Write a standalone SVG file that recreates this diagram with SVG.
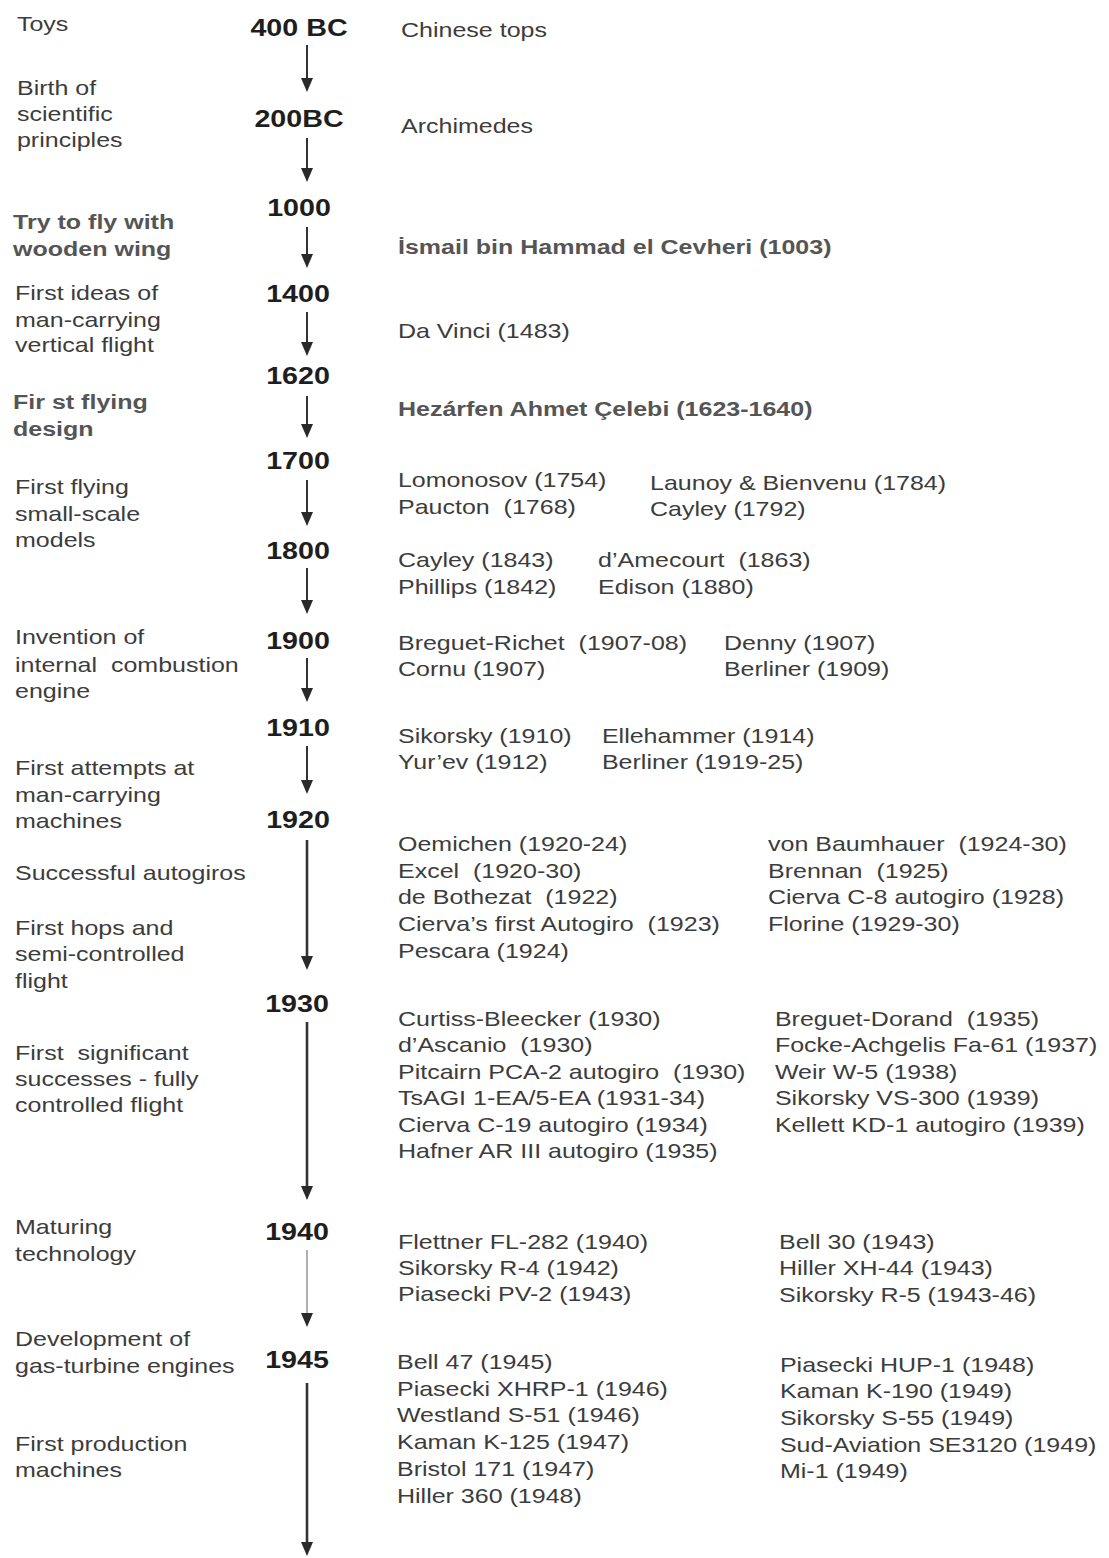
<svg xmlns="http://www.w3.org/2000/svg" width="1109" height="1558" viewBox="0 0 1109 1558" xml:space="preserve">
<style>
text { font-family: "Liberation Sans", Arial, sans-serif; white-space: pre; }
.t { font-size: 20.5px; fill: #3c3c3c; }
.b { font-size: 20.5px; font-weight: bold; fill: #555555; }
.y { font-size: 23.5px; font-weight: bold; fill: #1e1e1e; text-anchor: middle; }
.ln { stroke: #333333; stroke-width: 2; fill: none; }
.lt { stroke: #333333; stroke-width: 2.6; fill: none; }
.lg { stroke: #b0b0b0; stroke-width: 2; fill: none; }
</style>
<defs>
<marker id="ah" viewBox="0 0 14 12" refX="0" refY="6" markerWidth="14" markerHeight="12" markerUnits="userSpaceOnUse" orient="auto">
<path d="M0,0 L14,6 L0,12 z" fill="#2a2a2a"/>
</marker>
</defs>
<rect x="0" y="0" width="1109" height="1558" fill="#ffffff"/>
<g id="connectors">
<line class="ln" x1="307" y1="45" x2="307" y2="78" marker-end="url(#ah)"/>
<line class="ln" x1="307" y1="138" x2="307" y2="168" marker-end="url(#ah)"/>
<line class="ln" x1="307" y1="227" x2="307" y2="254" marker-end="url(#ah)"/>
<line class="ln" x1="307" y1="312" x2="307" y2="342" marker-end="url(#ah)"/>
<line class="ln" x1="307" y1="396" x2="307" y2="424" marker-end="url(#ah)"/>
<line class="ln" x1="307" y1="480" x2="307" y2="512" marker-end="url(#ah)"/>
<line class="ln" x1="307" y1="568" x2="307" y2="600" marker-end="url(#ah)"/>
<line class="ln" x1="307" y1="658" x2="307" y2="688" marker-end="url(#ah)"/>
<line class="ln" x1="307" y1="746" x2="307" y2="780" marker-end="url(#ah)"/>
<line class="lt" x1="307" y1="840" x2="307" y2="956" marker-end="url(#ah)"/>
<line class="lt" x1="307" y1="1022" x2="307" y2="1186" marker-end="url(#ah)"/>
<line class="lg" x1="307" y1="1250" x2="307" y2="1313" marker-end="url(#ah)"/>
<line class="lt" x1="307" y1="1383" x2="307" y2="1542" marker-end="url(#ah)"/>
</g>
<g transform="scale(1.22 1)">
<g id="years">
<text id="y400bc" class="y" x="245.1" y="36">400 BC</text>
<text id="y200bc" class="y" x="245.1" y="127">200BC</text>
<text id="y1000" class="y" x="245.1" y="216">1000</text>
<text id="y1400" class="y" x="244.3" y="302">1400</text>
<text id="y1620" class="y" x="244.3" y="384">1620</text>
<text id="y1700" class="y" x="244.3" y="469">1700</text>
<text id="y1800" class="y" x="244.3" y="559">1800</text>
<text id="y1900" class="y" x="244.3" y="649">1900</text>
<text id="y1910" class="y" x="244.3" y="736">1910</text>
<text id="y1920" class="y" x="244.3" y="828">1920</text>
<text id="y1930" class="y" x="243.5" y="1012">1930</text>
<text id="y1940" class="y" x="243.5" y="1240">1940</text>
<text id="y1945" class="y" x="243.5" y="1368">1945</text>
</g>
<g id="labels">
<g id="lab-toys"><text class="t" x="13.9" y="31">Toys</text></g>
<g id="lab-birth"><text class="t" x="13.9" y="95">Birth of</text><text class="t" x="13.9" y="121">scientific</text><text class="t" x="13.9" y="147">principles</text></g>
<g id="lab-try"><text class="b" x="10.7" y="229">Try to fly with</text><text class="b" x="10.7" y="256">wooden wing</text></g>
<g id="lab-ideas"><text class="t" x="12.3" y="300">First ideas of</text><text class="t" x="12.3" y="327">man-carrying</text><text class="t" x="12.3" y="352">vertical flight</text></g>
<g id="lab-design"><text class="b" x="10.7" y="409">Fir st flying</text><text class="b" x="10.7" y="436">design</text></g>
<g id="lab-models"><text class="t" x="12.3" y="494">First flying</text><text class="t" x="12.3" y="521">small-scale</text><text class="t" x="12.3" y="547">models</text></g>
<g id="lab-engine"><text class="t" x="12.3" y="644">Invention of</text><text class="t" x="12.3" y="672">internal  combustion</text><text class="t" x="12.3" y="698">engine</text></g>
<g id="lab-attempts"><text class="t" x="12.3" y="775">First attempts at</text><text class="t" x="12.3" y="802">man-carrying</text><text class="t" x="12.3" y="828">machines</text></g>
<g id="lab-autogiros"><text class="t" x="12.3" y="880">Successful autogiros</text></g>
<g id="lab-hops"><text class="t" x="12.3" y="935">First hops and</text><text class="t" x="12.3" y="961">semi-controlled</text><text class="t" x="12.3" y="988">flight</text></g>
<g id="lab-significant"><text class="t" x="12.3" y="1060">First  significant</text><text class="t" x="12.3" y="1086">successes - fully</text><text class="t" x="12.3" y="1112">controlled flight</text></g>
<g id="lab-maturing"><text class="t" x="12.3" y="1234">Maturing</text><text class="t" x="12.3" y="1261">technology</text></g>
<g id="lab-gasturbine"><text class="t" x="12.3" y="1346">Development of</text><text class="t" x="12.3" y="1373">gas-turbine engines</text></g>
<g id="lab-production"><text class="t" x="12.3" y="1451">First production</text><text class="t" x="12.3" y="1477">machines</text></g>
</g>
<g id="items">
<g id="it-400bc"><text class="t" x="328.7" y="37">Chinese tops</text></g>
<g id="it-200bc"><text class="t" x="328.7" y="133">Archimedes</text></g>
<g id="it-1000"><text class="b" x="326.2" y="254">İsmail bin Hammad el Cevheri (1003)</text></g>
<g id="it-1400"><text class="t" x="326.2" y="338">Da Vinci (1483)</text></g>
<g id="it-1620"><text class="b" x="326.2" y="416">Hezárfen Ahmet Çelebi (1623-1640)</text></g>
<g id="it-1700">
<text class="t" x="326.2" y="487">Lomonosov (1754)</text><text class="t" x="326.2" y="514">Paucton  (1768)</text>
<text class="t" x="532.8" y="490">Launoy &amp; Bienvenu (1784)</text><text class="t" x="532.8" y="516">Cayley (1792)</text>
</g>
<g id="it-1800">
<text class="t" x="326.2" y="567">Cayley (1843)</text><text class="t" x="326.2" y="594">Phillips (1842)</text>
<text class="t" x="490.2" y="567">d’Amecourt  (1863)</text><text class="t" x="490.2" y="594">Edison (1880)</text>
</g>
<g id="it-1900">
<text class="t" x="326.2" y="650">Breguet-Richet  (1907-08)</text><text class="t" x="326.2" y="676">Cornu (1907)</text>
<text class="t" x="593.4" y="650">Denny (1907)</text><text class="t" x="593.4" y="676">Berliner (1909)</text>
</g>
<g id="it-1910">
<text class="t" x="326.2" y="743">Sikorsky (1910)</text><text class="t" x="326.2" y="769">Yur’ev (1912)</text>
<text class="t" x="493.4" y="743">Ellehammer (1914)</text><text class="t" x="493.4" y="769">Berliner (1919-25)</text>
</g>
<g id="it-1920">
<text class="t" x="326.2" y="851">Oemichen (1920-24)</text>
<text class="t" x="326.2" y="878">Excel  (1920-30)</text>
<text class="t" x="326.2" y="904">de Bothezat  (1922)</text>
<text class="t" x="326.2" y="931">Cierva’s first Autogiro  (1923)</text>
<text class="t" x="326.2" y="958">Pescara (1924)</text>
<text class="t" x="629.5" y="851">von Baumhauer  (1924-30)</text>
<text class="t" x="629.5" y="878">Brennan  (1925)</text>
<text class="t" x="629.5" y="904">Cierva C-8 autogiro (1928)</text>
<text class="t" x="629.5" y="931">Florine (1929-30)</text>
</g>
<g id="it-1930">
<text class="t" x="326.2" y="1026">Curtiss-Bleecker (1930)</text>
<text class="t" x="326.2" y="1052">d’Ascanio  (1930)</text>
<text class="t" x="326.2" y="1079">Pitcairn PCA-2 autogiro  (1930)</text>
<text class="t" x="326.2" y="1105">TsAGI 1-EA/5-EA (1931-34)</text>
<text class="t" x="326.2" y="1132">Cierva C-19 autogiro (1934)</text>
<text class="t" x="326.2" y="1158">Hafner AR III autogiro (1935)</text>
<text class="t" x="635.2" y="1026">Breguet-Dorand  (1935)</text>
<text class="t" x="635.2" y="1052">Focke-Achgelis Fa-61 (1937)</text>
<text class="t" x="635.2" y="1079">Weir W-5 (1938)</text>
<text class="t" x="635.2" y="1105">Sikorsky VS-300 (1939)</text>
<text class="t" x="635.2" y="1132">Kellett KD-1 autogiro (1939)</text>
</g>
<g id="it-1940">
<text class="t" x="326.2" y="1249">Flettner FL-282 (1940)</text>
<text class="t" x="326.2" y="1275">Sikorsky R-4 (1942)</text>
<text class="t" x="326.2" y="1301">Piasecki PV-2 (1943)</text>
<text class="t" x="638.5" y="1249">Bell 30 (1943)</text>
<text class="t" x="638.5" y="1275">Hiller XH-44 (1943)</text>
<text class="t" x="638.5" y="1302">Sikorsky R-5 (1943-46)</text>
</g>
<g id="it-1945">
<text class="t" x="325.4" y="1369">Bell 47 (1945)</text>
<text class="t" x="325.4" y="1396">Piasecki XHRP-1 (1946)</text>
<text class="t" x="325.4" y="1422">Westland S-51 (1946)</text>
<text class="t" x="325.4" y="1449">Kaman K-125 (1947)</text>
<text class="t" x="325.4" y="1476">Bristol 171 (1947)</text>
<text class="t" x="325.4" y="1503">Hiller 360 (1948)</text>
<text class="t" x="639.3" y="1372">Piasecki HUP-1 (1948)</text>
<text class="t" x="639.3" y="1398">Kaman K-190 (1949)</text>
<text class="t" x="639.3" y="1425">Sikorsky S-55 (1949)</text>
<text class="t" x="639.3" y="1452">Sud-Aviation SE3120 (1949)</text>
<text class="t" x="639.3" y="1478">Mi-1 (1949)</text>
</g>
</g>
</g>
</svg>
